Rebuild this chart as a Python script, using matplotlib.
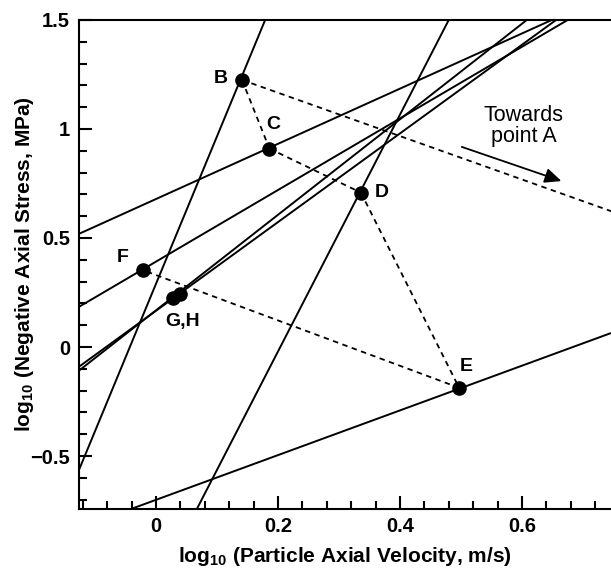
import numpy as np
import matplotlib
matplotlib.use("Agg")
import matplotlib.pyplot as plt

plt.rcParams['font.family'] = ['Liberation Sans', 'DejaVu Sans']
plt.rcParams['mathtext.fontset'] = 'custom'
plt.rcParams['mathtext.bf'] = 'Liberation Sans:bold'
plt.rcParams['mathtext.rm'] = 'Liberation Sans'

# characteristic lines, each given by two end points (log10 v, log10 stress)
line_x0 = [-0.127, 0.067, -0.041, -0.127, -0.127, -0.127, -0.127]
line_y0 = [-0.569, -0.743, -0.743, 0.518, 0.183, -0.092, -0.110]
line_x1 = [0.179, 0.480, 0.746, 0.649, 0.675, 0.656, 0.608]
line_y1 = [1.5, 1.5, 0.064, 1.5, 1.5, 1.5, 1.5]

# state points
pt_names = ['B', 'C', 'D', 'E', 'F', 'G,H']
pt_x = [0.141, 0.186, 0.336, 0.497, -0.022, 0.028]
pt_y = [1.225, 0.910, 0.708, -0.187, 0.353, 0.223]
h_x, h_y = 0.039, 0.243
a_x, a_y = 0.90, 0.47   # point A, off the chart

# dashed path segments (index pairs into the points above)
path = [(0, 1), (1, 2), (2, 3), (3, 4)]
label_off = [(-15, 1), (3, 17), (15, 0), (5, 15), (-14, 9), (7, -17)]

fig = plt.figure(figsize=(6.11, 5.70), dpi=100)
ax = fig.add_axes([0.1285, 0.107, 0.8715, 0.858])

for x0, y0, x1, y1 in zip(line_x0, line_y0, line_x1, line_y1):
    ax.plot([x0, x1], [y0, y1], color='black', lw=1.4, solid_capstyle='butt')

ax.plot([pt_x[0], a_x], [pt_y[0], a_y], color='black', lw=1.3, ls=(0, (3, 2.5)))
for i, j in path:
    ax.plot([pt_x[i], pt_x[j]], [pt_y[i], pt_y[j]], color='black', lw=1.3,
            ls=(0, (3, 2.5)))

ax.plot(pt_x + [h_x], pt_y + [h_y], 'o', color='black', ms=9.5, zorder=5)
for name, x, y, off in zip(pt_names, pt_x, pt_y, label_off):
    ax.annotate(name, (x, y), xytext=off, textcoords='offset points',
                ha='center', va='center', fontsize=14, fontweight='bold')

ax.annotate('', xy=(0.669, 0.757), xytext=(0.497, 0.922),
            arrowprops=dict(arrowstyle='-|>,head_length=1.0,head_width=0.45',
                            color='black', lw=1.3))
ax.text(0.603, 1.014, 'Towards\npoint A', ha='center', va='center',
        fontsize=15.5, linespacing=1.0)

ax.set_xlim(-0.127, 0.746)
ax.set_ylim(-0.743, 1.5)
ax.set_xticks([0, 0.2, 0.4, 0.6])
ax.set_xticklabels(['0', '0.2', '0.4', '0.6'])
ax.set_yticks([-0.5, 0, 0.5, 1, 1.5])
ax.set_yticklabels(['\u22120.5', '0', '0.5', '1', '1.5'])
ax.set_xticks(np.arange(-0.12, 0.75, 0.04), minor=True)
ax.set_yticks(np.arange(-0.7, 1.5, 0.1), minor=True)
ax.tick_params(which='both', direction='in', width=1.5, labelsize=14.5)
ax.tick_params(which='major', length=9.5, pad=6)
ax.tick_params(which='minor', length=5.5)
for lab in ax.get_xticklabels() + ax.get_yticklabels():
    lab.set_fontweight('bold')

ax.spines['right'].set_visible(False)
for s in ['left', 'bottom', 'top']:
    ax.spines[s].set_linewidth(1.5)

ax.set_xlabel('log$_{\\mathbf{10}}$ (Particle Axial Velocity, m/s)',
              fontsize=15, fontweight='bold', va='center')
ax.set_ylabel('log$_{\\mathbf{10}}$ (Negative Axial Stress, MPa)',
              fontsize=15, fontweight='bold', va='center')
ax.xaxis.set_label_coords(0.5, -0.097)
ax.yaxis.set_label_coords(-0.101, 0.5)

fig.savefig('out.png', dpi=100)
